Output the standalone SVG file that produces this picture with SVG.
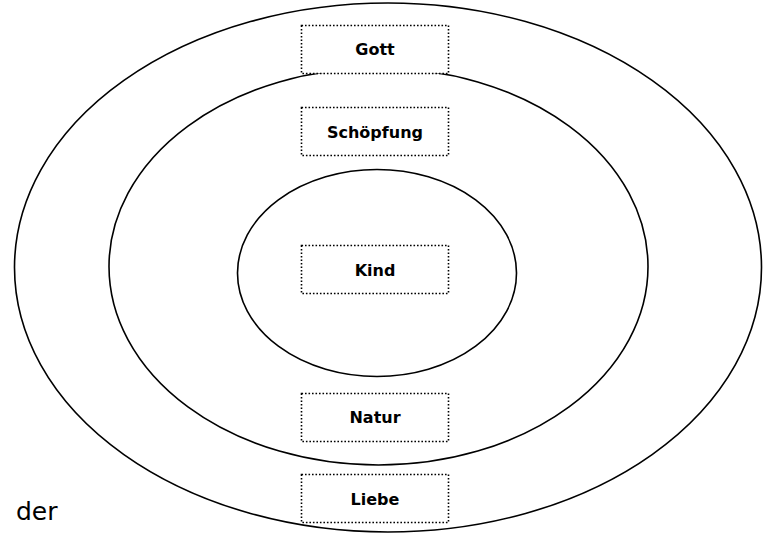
<svg xmlns="http://www.w3.org/2000/svg" width="764" height="536" viewBox="0 0 764 536">
<style>
.ring{fill:none;stroke:#000;stroke-width:1.6}
.box{fill:#fff;stroke:#000;stroke-width:1.6;stroke-dasharray:1.6 1.9}
.lbl{font-family:"Comic Sans MS","DejaVu Sans",sans-serif;font-weight:bold;font-size:16px;text-anchor:middle;fill:#000}
.free{font-family:"DejaVu Sans","Verdana",sans-serif;font-size:25px;fill:#000}
</style>
<rect width="764" height="536" fill="#fff"/>
<g id="rings">
<ellipse id="outer" class="ring" cx="388" cy="267.5" rx="373.5" ry="264.5"/>
<ellipse id="middle" class="ring" cx="378.5" cy="266.5" rx="269.5" ry="198.5"/>
<ellipse id="inner" class="ring" cx="377" cy="273" rx="139.5" ry="103.5"/>
</g>
<g id="gott"><rect class="box" x="301.5" y="25.5" width="147" height="48"/><text class="lbl" x="375" y="55">Gott</text></g>
<g id="schoepfung"><rect class="box" x="301.5" y="107.5" width="147" height="48"/><text class="lbl" x="375" y="138">Schöpfung</text></g>
<g id="kind"><rect class="box" x="301.5" y="245.5" width="147" height="48"/><text class="lbl" x="375" y="276">Kind</text></g>
<g id="natur"><rect class="box" x="301.5" y="393.5" width="147" height="48"/><text class="lbl" x="375" y="423">Natur</text></g>
<g id="liebe"><rect class="box" x="301.5" y="474.5" width="147" height="48"/><text class="lbl" x="375" y="505">Liebe</text></g>
<text class="free" x="16" y="520">der</text>
</svg>
